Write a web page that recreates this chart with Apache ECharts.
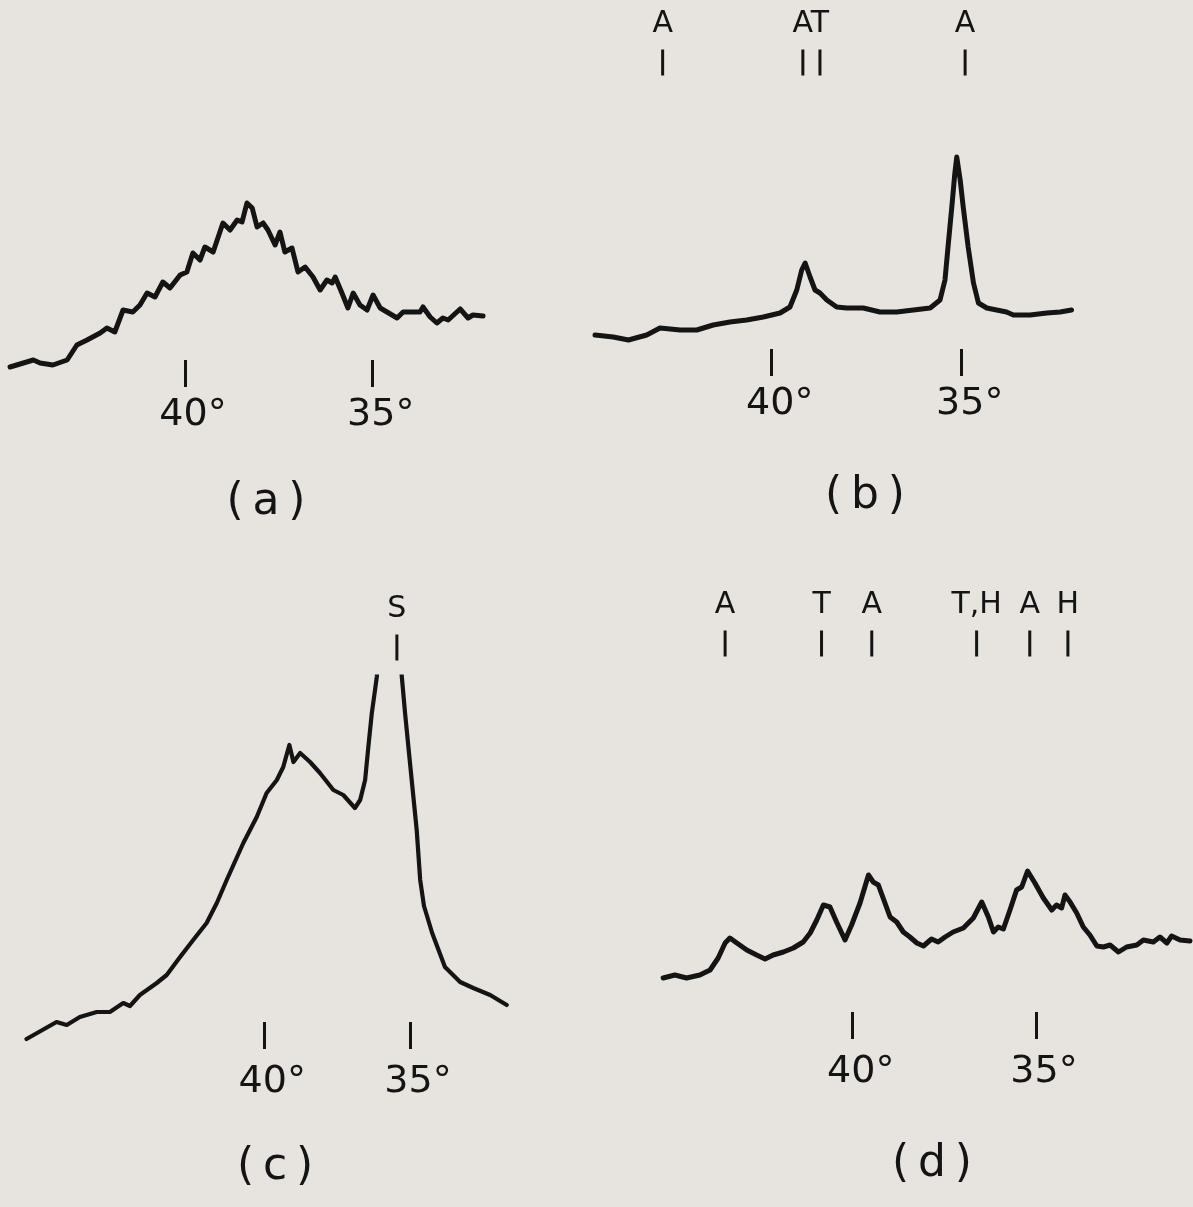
<!DOCTYPE html>
<html>
<head>
<meta charset="utf-8">
<script src="https://cdn.jsdelivr.net/npm/echarts@6/dist/echarts.min.js"></script>
<style>
  html, body { margin: 0; padding: 0; background: #e7e4df; }
  #chart { width: 1193px; height: 1207px; }
</style>
</head>
<body>
<div id="chart"></div>
<script>
// 2-theta in degrees, intensity in arbitrary units above the tick line.
var traceA = [
  [44.66, -7], [44.04, 0], [43.86, -3], [43.52, -5], [43.14, 0], [42.88, 15], [42.61, 20],
  [42.26, 27], [42.08, 32], [41.87, 28], [41.65, 50], [41.39, 48], [41.20, 55], [41.01, 67],
  [40.80, 63], [40.59, 78], [40.40, 72], [40.13, 85], [39.95, 88], [39.79, 107], [39.60, 100],
  [39.47, 113], [39.25, 108], [38.99, 137], [38.80, 130], [38.61, 140], [38.48, 138], [38.35, 157],
  [38.21, 152], [38.08, 133], [37.92, 137], [37.79, 130], [37.60, 115], [37.47, 128], [37.34, 108],
  [37.15, 112], [36.99, 88], [36.80, 93], [36.59, 83], [36.40, 70], [36.22, 80], [36.08, 77],
  [36.00, 83], [35.82, 67], [35.66, 52], [35.52, 67], [35.34, 55], [35.15, 50], [34.99, 65],
  [34.80, 52], [34.62, 48], [34.35, 42], [34.19, 48], [33.74, 48], [33.66, 53], [33.47, 43],
  [33.29, 37], [33.13, 42], [32.99, 40], [32.67, 51], [32.46, 42], [32.33, 45], [32.06, 44]
];

var traceB = [
  [44.65, 14], [44.17, 12], [43.77, 9], [43.29, 14], [42.94, 21], [42.41, 19], [41.97, 19],
  [41.54, 24], [41.10, 27], [40.66, 29], [40.22, 32], [39.78, 36], [39.52, 42], [39.34, 59],
  [39.21, 79], [39.12, 86], [38.99, 72], [38.86, 59], [38.73, 56], [38.55, 49], [38.29, 42],
  [38.03, 41], [37.59, 41], [37.15, 37], [36.71, 37], [36.27, 39], [35.83, 41], [35.57, 49],
  [35.44, 69], [35.36, 102], [35.26, 142], [35.18, 176], [35.13, 192], [35.04, 169], [34.96, 142],
  [34.83, 102], [34.69, 66], [34.56, 46], [34.34, 41], [33.82, 37], [33.64, 34], [33.20, 34],
  [32.76, 36], [32.41, 37], [32.11, 39]
];

// the S peak runs off the top of the chart
var traceC = [
  [48.16, -17], [47.13, 0], [46.78, -3], [46.33, 5], [45.75, 10], [45.30, 10], [44.84, 19],
  [44.61, 16], [44.27, 27], [43.69, 39], [43.35, 47], [42.89, 65], [42.44, 82], [41.98, 99],
  [41.63, 119], [41.29, 142], [40.72, 179], [40.26, 205], [39.92, 229], [39.57, 242], [39.35, 255],
  [39.14, 277], [39.00, 260], [38.77, 269], [38.43, 260], [38.09, 249], [37.63, 232], [37.29, 227],
  [36.89, 214], [36.71, 222], [36.54, 242], [36.43, 275], [36.31, 309], [36.20, 332], [36.14, 345],
  [35.72, 500], [35.28, 345], [35.17, 309], [35.00, 259], [34.77, 192], [34.65, 142], [34.52, 116],
  [34.24, 89], [33.80, 55], [33.28, 40], [32.83, 34], [32.25, 27], [31.68, 17]
];

var traceD = [
  [45.17, 34], [44.85, 37], [44.53, 34], [44.17, 37], [43.89, 42], [43.67, 54], [43.48, 69],
  [43.35, 74], [43.16, 69], [42.89, 62], [42.62, 57], [42.39, 53], [42.17, 57], [41.89, 60],
  [41.62, 64], [41.35, 70], [41.16, 79], [40.98, 92], [40.80, 107], [40.62, 105], [40.44, 90],
  [40.21, 72], [40.03, 87], [39.80, 109], [39.57, 137], [39.44, 130], [39.30, 127], [39.17, 114],
  [38.98, 95], [38.80, 90], [38.62, 80], [38.44, 75], [38.25, 69], [38.07, 66], [37.85, 73],
  [37.67, 70], [37.48, 75], [37.26, 80], [36.98, 84], [36.71, 94], [36.48, 110], [36.30, 95],
  [36.16, 80], [36.03, 85], [35.89, 83], [35.71, 102], [35.53, 122], [35.39, 125], [35.23, 141],
  [35.03, 129], [34.80, 114], [34.57, 102], [34.44, 107], [34.30, 104], [34.21, 117], [34.07, 110],
  [33.89, 99], [33.71, 85], [33.53, 77], [33.34, 66], [33.16, 65], [32.98, 67], [32.75, 60],
  [32.53, 65], [32.25, 67], [32.07, 72], [31.80, 70], [31.62, 75], [31.43, 69], [31.30, 76],
  [31.07, 72], [30.80, 71]
];

var peaksB = [['A', 42.87], ['A', 39.18], ['T', 38.73], ['A', 34.91]];
var peaksC = [['S', 35.45]];
var peaksD = [['A', 43.48], ['T', 40.85], ['A', 39.48], ['T,H', 36.62], ['A', 35.17], ['H', 34.13]];

var tickDegrees = [35, 40];
var panelNames = ['(\u2009a\u2009)', '(\u2009b\u2009)', '(\u2009c\u2009)', '(\u2009d\u2009)'];

var ink = '#141414';
var font = 'DejaVu Sans';

// pixel layout of each panel: where 40 and 35 degrees sit, tick line, plot top/bottom, label centre
var panels = [
  { trace: traceA, peaks: [], px40: 185, px35: 372.7, axisY: 360, top: 190, bottom: 380, labelY: 413, min: 31.9, max: 44.8, markY: 0, width: 5, nameAt: [266, 503] },
  { trace: traceB, peaks: peaksB, px40: 771.7, px35: 961.7, axisY: 349, top: 0, bottom: 360, labelY: 402, min: 31.9, max: 44.8, markY: 62.5, width: 5, nameAt: [865, 497] },
  { trace: traceC, peaks: peaksC, px40: 264.3, px35: 410, axisY: 1022, top: 676.7, bottom: 1045, labelY: 1080, min: 31.5, max: 48.3, markY: 647.5, width: 4.2, nameAt: [275, 1168] },
  { trace: traceD, peaks: peaksD, px40: 852.7, px35: 1036, axisY: 1012, top: 560, bottom: 1020, labelY: 1070, min: 30.7, max: 45.3, markY: 643.5, width: 5, nameAt: [932, 1165] }
];

var grids = [], xAxes = [], yAxes = [], series = [], texts = [];

panels.forEach(function (p, i) {
  var ppd = (p.px35 - p.px40) / 5;
  grids.push({
    left: p.px40 - (p.max - 40) * ppd,
    width: (p.max - p.min) * ppd,
    top: p.top,
    height: p.bottom - p.top,
    containLabel: false,
    outerBoundsMode: 'none'
  });
  xAxes.push({
    gridIndex: i,
    type: 'value',
    inverse: true,
    min: p.min,
    max: p.max,
    axisLine: { show: false, onZero: true },
    splitLine: { show: false },
    axisTick: {
      show: true,
      customValues: tickDegrees,
      length: 27,
      lineStyle: { color: ink, width: 3 }
    },
    axisLabel: {
      show: true,
      customValues: tickDegrees,
      formatter: function (v) { return v + '°'; },
      // labels are placed from the grid bottom, not from the zero line
      margin: p.labelY - p.bottom - 17,
      padding: [0, 0, 0, 16],
      fontFamily: font,
      fontSize: 38,
      color: ink
    }
  });
  yAxes.push({
    gridIndex: i,
    type: 'value',
    show: false,
    min: -(p.bottom - p.axisY),
    max: p.axisY - p.top
  });
  series.push({
    type: 'line',
    xAxisIndex: i,
    yAxisIndex: i,
    data: p.trace,
    symbol: 'none',
    clip: true,
    silent: true,
    lineStyle: { color: ink, width: p.width, join: 'round', cap: 'round' }
  });
  if (p.peaks.length) {
    series.push({
      type: 'scatter',
      xAxisIndex: i,
      yAxisIndex: i,
      clip: false,
      silent: true,
      symbol: 'rect',
      symbolSize: [3, 26],
      itemStyle: { color: ink, opacity: 1 },
      data: p.peaks.map(function (k) { return [k[1], p.axisY - p.markY, k[0]]; }),
      label: {
        show: true,
        position: 'top',
        distance: 10,
        formatter: function (d) { return d.data[2]; },
        fontFamily: font,
        fontSize: 30,
        color: ink,
        opacity: 1
      }
    });
  }
  texts.push({
    type: 'text',
    x: p.nameAt[0],
    y: p.nameAt[1],
    style: {
      text: panelNames[i],
      fill: ink,
      font: '44px "' + font + '"',
      textAlign: 'center',
      textVerticalAlign: 'middle'
    }
  });
});

var chart = echarts.init(document.getElementById('chart'), null, { renderer: 'canvas' });
chart.setOption({
  animation: false,
  backgroundColor: '#e7e4df',
  grid: grids,
  xAxis: xAxes,
  yAxis: yAxes,
  series: series,
  graphic: texts
});
</script>
</body>
</html>
